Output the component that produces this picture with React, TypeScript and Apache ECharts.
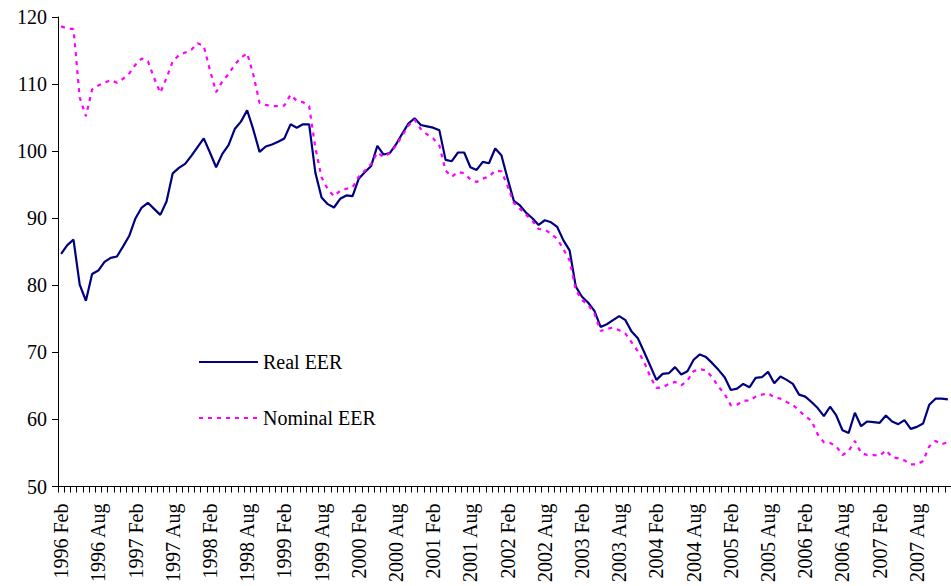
import React, { useEffect, useRef } from "react";
import * as echarts from "echarts";

const startYear = 1996;
const startMonth = 1; // Feb (0-based)
const monthNames = ["Jan", "Feb", "Mar", "Apr", "May", "Jun", "Jul", "Aug", "Sep", "Oct", "Nov", "Dec"];

const realEER = [
  84.7, 86.0, 86.8, 80.1, 77.7, 81.7, 82.2, 83.5, 84.1, 84.3, 85.8, 87.4,
  90.0, 91.6, 92.3, 91.4, 90.5, 92.5, 96.7, 97.5, 98.1, 99.3, 100.6, 101.9,
  99.8, 97.6, 99.6, 100.9, 103.3, 104.4, 106.1, 103.2, 99.9, 100.7, 101.0, 101.4,
  101.9, 104.0, 103.5, 104.0, 104.0, 96.8, 93.1, 92.1, 91.6, 92.9, 93.4, 93.3,
  95.9, 96.9, 97.8, 100.8, 99.5, 99.7, 101.0, 102.6, 104.1, 104.9, 103.9, 103.7,
  103.5, 103.1, 98.7, 98.5, 99.8, 99.8, 97.6, 97.2, 98.4, 98.2, 100.4, 99.4,
  95.9, 92.6, 91.9, 90.8, 90.0, 89.0, 89.7, 89.4, 88.7, 86.7, 85.2, 79.8,
  78.3, 77.4, 76.2, 73.8, 74.2, 74.8, 75.4, 74.8, 73.1, 72.1, 70.1, 68.0,
  65.9, 66.8, 66.9, 67.8, 66.7, 67.2, 68.9, 69.7, 69.3, 68.4, 67.4, 66.3,
  64.4, 64.6, 65.3, 64.8, 66.2, 66.3, 67.1, 65.4, 66.4, 65.9, 65.3, 63.7,
  63.4, 62.6, 61.7, 60.5, 61.9, 60.6, 58.4, 58.0, 61.0, 59.0, 59.7, 59.6,
  59.5, 60.6, 59.7, 59.3, 59.9, 58.6, 58.9, 59.4, 62.2, 63.1, 63.1, 63.0,
];

const nominalEER = [
  118.6, 118.3, 118.2, 108.0, 105.2, 109.2, 109.8, 110.2, 110.6, 110.2, 110.8, 111.6,
  112.9, 113.8, 113.4, 110.9, 108.7, 110.9, 113.4, 114.3, 114.7, 115.1, 116.1, 115.7,
  112.1, 108.8, 110.4, 111.5, 112.9, 113.9, 114.6, 111.4, 107.2, 106.9, 106.7, 106.7,
  106.8, 108.4, 107.5, 107.3, 106.7, 100.5, 96.1, 94.3, 93.3, 94.1, 94.4, 94.6,
  96.2, 97.1, 98.1, 99.8, 99.1, 99.7, 100.8, 102.3, 103.8, 104.7, 103.3, 102.5,
  101.9, 100.8, 97.1, 96.2, 96.9, 96.7, 95.8, 95.4, 95.9, 96.2, 97.1, 97.0,
  94.8, 92.3, 91.4, 90.5, 89.6, 88.4, 88.3, 87.7, 86.9, 85.4, 83.7, 79.3,
  77.8, 77.1, 75.8, 73.2, 73.5, 73.7, 73.3, 72.8, 71.5, 70.2, 68.6, 66.4,
  64.7, 64.8, 65.3, 65.6, 65.1, 65.8, 67.2, 67.5, 67.3, 66.3, 64.9, 63.8,
  62.1, 62.2, 62.8, 62.8, 63.4, 63.7, 63.9, 63.3, 63.1, 62.6, 62.2, 61.3,
  60.5, 59.8, 57.8, 56.6, 56.5, 56.0, 54.7, 55.3, 56.8, 55.0, 54.7, 54.7,
  54.6, 55.4, 54.4, 54.2, 53.9, 53.3, 53.3, 53.8, 56.0, 56.8, 56.3, 56.6,
];

const categories: string[] = realEER.map((_, i) => {
  const m = startMonth + i;
  return `${startYear + Math.floor(m / 12)} ${monthNames[m % 12]}`;
});

const FONT = "Times New Roman, Liberation Serif, serif";

export default function App() {
  const ref = useRef<HTMLDivElement>(null);
  useEffect(() => {
    if (!ref.current) return;
    const chart = echarts.init(ref.current, null, { renderer: "svg" });
    chart.setOption({
      animation: false,
      backgroundColor: "#ffffff",
      textStyle: { fontFamily: FONT },
      grid: { left: 58, top: 17, width: 896.4, height: 472.3, containLabel: false },
      legend: {
        orient: "vertical",
        left: 198,
        top: 352,
        padding: 0,
        itemWidth: 59,
        itemHeight: 20,
        itemGap: 36,
        itemStyle: { opacity: 0 },
        textStyle: { fontFamily: FONT, fontSize: 20, color: "#000" },
        data: ["Real EER", "Nominal EER"],
      },
      xAxis: {
        type: "category",
        data: categories,
        boundaryGap: true,
        axisLine: { lineStyle: { color: "#000", width: 1 } },
        axisTick: { show: true, interval: 0, length: 6, lineStyle: { color: "#000" } },
        axisLabel: {
          interval: 5,
          rotate: 90,
          margin: 17,
          fontFamily: FONT,
          fontSize: 20,
          color: "#000",
        },
        splitLine: { show: false },
      },
      yAxis: {
        type: "value",
        min: 50,
        max: 120,
        interval: 10,
        axisLine: { show: true, lineStyle: { color: "#000", width: 1 } },
        axisTick: { show: true, length: 6, lineStyle: { color: "#000" } },
        axisLabel: { margin: 11, fontFamily: FONT, fontSize: 20, color: "#000" },
        splitLine: { show: false },
      },
      series: [
        {
          name: "Real EER",
          type: "line",
          data: realEER,
          symbol: "none",
          itemStyle: { color: "#000080" },
          lineStyle: { color: "#000080", width: 2.2 },
        },
        {
          name: "Nominal EER",
          type: "line",
          data: nominalEER,
          symbol: "none",
          itemStyle: { color: "#FF00FF" },
          lineStyle: { color: "#FF00FF", width: 2.2, type: [4, 5] },
        },
      ],
    });
    return () => chart.dispose();
  }, []);
  return (
    <div
      ref={ref}
      style={{ position: "fixed", left: 0, top: 0, width: 951, height: 586, background: "#fff" }}
    />
  );
}
